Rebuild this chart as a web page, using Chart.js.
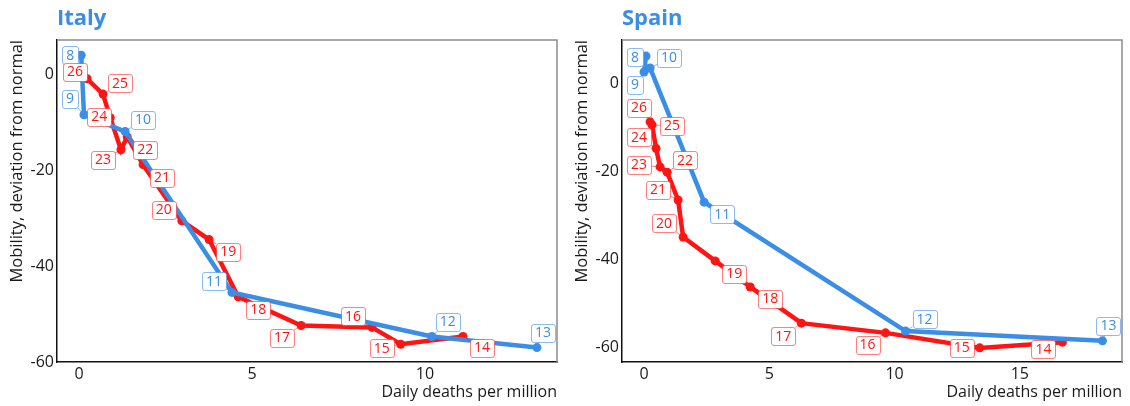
<!DOCTYPE html>
<html>
<head>
<meta charset="utf-8">
<script src="https://cdn.jsdelivr.net/npm/chart.js@4.4.1/dist/chart.umd.min.js"></script>
<style>
  body { margin: 0; background: #fff; width: 1130px; height: 406px; position: relative; overflow: hidden; }
  .panel { position: absolute; top: 0; width: 565px; height: 406px; }
  .title { position: absolute; left: 57px; top: 1px; font: bold 22px "Open Sans", sans-serif; color: #3a8ee6; }
</style>
</head>
<body>
<div class="panel" style="left:0"><canvas id="italy" width="565" height="406"></canvas><div class="title">Italy</div></div>
<div class="panel" style="left:565px"><canvas id="spain" width="565" height="406"></canvas><div class="title">Spain</div></div>
<script>
// weeks of the year shown as labels
const weeksBlue = [8, 9, 10, 11, 12, 13];
const weeksRed = [14, 15, 16, 17, 18, 19, 20, 21, 22, 23, 24, 25, 26];

// Italy: daily deaths per million vs mobility deviation
const italyDeathsBlue = [0.06, 0.14, 1.33, 4.42, 10.2, 13.24];
const italyMobilityBlue = [3.9, -8.5, -12, -45.5, -54.7, -57];
const italyDeathsRed = [11.1, 9.3, 8.47, 6.42, 4.6, 3.76, 2.97, 1.85, 1.39, 1.21, 0.9, 0.69, 0.23];
const italyMobilityRed = [-54.7, -56.3, -52.8, -52.4, -46.4, -34.5, -30.6, -18.9, -13.1, -15.8, -9.1, -4.2, -1.0];

// Spain
const spainDeathsBlue = [0.08, 0, 0.24, 2.4, 10.44, 18.3];
const spainMobilityBlue = [6.1, 2.5, 3.4, -27, -56.2, -58.4];
const spainDeathsRed = [16.7, 13.4, 9.64, 6.28, 4.24, 2.84, 1.56, 1.36, 0.92, 0.64, 0.48, 0.32, 0.24];
const spainMobilityRed = [-58.7, -60, -56.6, -54.4, -46.2, -40.3, -34.9, -26.5, -20.2, -19, -14.8, -9.5, -8.8];

// tick labels
const italyXTicks = [0, 5, 10];
const spainXTicks = [0, 5, 10, 15];
const yTicks = [-60, -40, -20, 0];

// label nudges (px) for the repelled week labels
const italyBlueNudge = [[-11, 0], [-14, -16], [18, -12], [-18, -11], [16, -15], [6, -15]];
const italyRedNudge = [[19, 11], [-19, 4], [-19, -11], [-19, 12], [20, 13], [19, 12], [-18, -11], [19, 13], [18, 13], [-18, 10], [-11, -1], [17, -11], [-12, -7]];
const spainBlueNudge = [[-11, 1], [-9, 13], [19, -10], [18, 12], [19, -12], [6, -15]];
const spainRedNudge = [[-19, 7], [-18, 0], [-18, 12], [-18, 13], [20, 12], [19, 13], [-19, -14], [-20, -10], [18, -12], [-21, -2], [-17, -11], [20, 1], [-11, -14]];

const BLUE = '#3a8ee6';
const RED = '#ff1414';
const FONT = '"Open Sans", sans-serif';
Chart.defaults.font.family = FONT;

const framePlugin = {
    id: 'frame',
    beforeDatasetsDraw(chart) {
        const { ctx, chartArea: a } = chart;
        ctx.save();
        ctx.strokeStyle = '#8c8c8c';
        ctx.lineWidth = 1.5;
        ctx.beginPath();
        ctx.moveTo(a.left, a.top);
        ctx.lineTo(a.right, a.top);
        ctx.lineTo(a.right, a.bottom);
        ctx.stroke();
        ctx.restore();
    }
};

const labelPlugin = {
    id: 'weekLabels',
    afterDatasetsDraw(chart) {
        const ctx = chart.ctx;
        ctx.save();
        ctx.font = '14px ' + FONT;
        ctx.textAlign = 'center';
        ctx.textBaseline = 'middle';
        chart.data.datasets.forEach((ds, di) => {
            const meta = chart.getDatasetMeta(di);
            meta.data.forEach((pt, i) => {
                const [dx, dy] = ds.nudge[i];
                const text = String(ds.weeks[i]);
                const w = ctx.measureText(text).width + 8;
                const h = 18;
                const cx = pt.x + dx, cy = pt.y + dy;
                // segment from box edge to the point
                const t = Math.min(dx ? (w / 2) / Math.abs(dx) : Infinity, dy ? (h / 2) / Math.abs(dy) : Infinity);
                if (t < 0.8) {
                    ctx.strokeStyle = ds.faint;
                    ctx.lineWidth = 1;
                    ctx.beginPath();
                    ctx.moveTo(cx - dx * t, cy - dy * t);
                    ctx.lineTo(pt.x, pt.y);
                    ctx.stroke();
                }
                ctx.fillStyle = '#fff';
                ctx.strokeStyle = ds.faint;
                ctx.lineWidth = 1;
                ctx.beginPath();
                ctx.roundRect(Math.round(cx - w / 2) + 0.5, Math.round(cy - h / 2) + 0.5, Math.round(w), h, 2.5);
                ctx.fill();
                ctx.stroke();
                ctx.fillStyle = ds.borderColor;
                ctx.fillText(text, cx, cy + 0.5);
            });
        });
        ctx.restore();
    }
};

function series(xs, ys) {
    return xs.map((x, i) => ({ x: x, y: ys[i] }));
}

function makeChart(id, blue, red, xMin, xMax, yMin, yMax, xTicks) {
    return new Chart(document.getElementById(id), {
        type: 'scatter',
        data: {
            datasets: [
                {
                    data: blue.data, weeks: weeksBlue, nudge: blue.nudge,
                    borderColor: BLUE, backgroundColor: BLUE, faint: 'rgba(58,142,230,0.6)',
                    showLine: true, borderWidth: 4.5, pointRadius: 4.5, pointBorderWidth: 0
                },
                {
                    data: red.data, weeks: weeksRed, nudge: red.nudge,
                    borderColor: RED, backgroundColor: RED, faint: 'rgba(255,20,20,0.55)',
                    showLine: true, borderWidth: 4.5, pointRadius: 4.5, pointBorderWidth: 0
                }
            ]
        },
        options: {
            responsive: false,
            animation: false,
            layout: { padding: { left: 0, top: 40, right: 8, bottom: 0 } },
            plugins: { legend: { display: false }, tooltip: { enabled: false } },
            scales: {
                x: {
                    type: 'linear', min: xMin, max: xMax,
                    afterBuildTicks: s => { s.ticks = xTicks.map(v => ({ value: v })); },
                    afterFit: s => { s.height = 44; },
                    grid: { display: false, drawTicks: false },
                    border: { display: true, color: '#111', width: 1.5 },
                    ticks: { font: { size: 16 }, color: '#1a1a1a', padding: 3 },
                    title: { display: true, text: 'Daily deaths per million', align: 'end', font: { size: 16 }, color: '#1a1a1a', padding: { top: 0, bottom: 4 } }
                },
                y: {
                    type: 'linear', min: yMin, max: yMax,
                    afterBuildTicks: s => { s.ticks = yTicks.map(v => ({ value: v })); },
                    afterFit: s => { s.width = 57; },
                    grid: { display: false, drawTicks: false },
                    border: { display: true, color: '#111', width: 1.5 },
                    ticks: { font: { size: 16 }, color: '#1a1a1a', padding: 3 },
                    title: { display: true, text: 'Mobility, deviation from normal', align: 'end', font: { size: 16.5 }, color: '#1a1a1a', padding: { top: 7, bottom: 0 } }
                }
            }
        },
        plugins: [framePlugin, labelPlugin]
    });
}

makeChart('italy',
    { data: series(italyDeathsBlue, italyMobilityBlue), nudge: italyBlueNudge },
    { data: series(italyDeathsRed, italyMobilityRed), nudge: italyRedNudge },
    -0.64, 13.82, -60, 7.07, italyXTicks);

makeChart('spain',
    { data: series(spainDeathsBlue, spainMobilityBlue), nudge: spainBlueNudge },
    { data: series(spainDeathsRed, spainMobilityRed), nudge: spainRedNudge },
    -0.88, 19.08, -63.2, 9.74, spainXTicks);
</script>
</body>
</html>
